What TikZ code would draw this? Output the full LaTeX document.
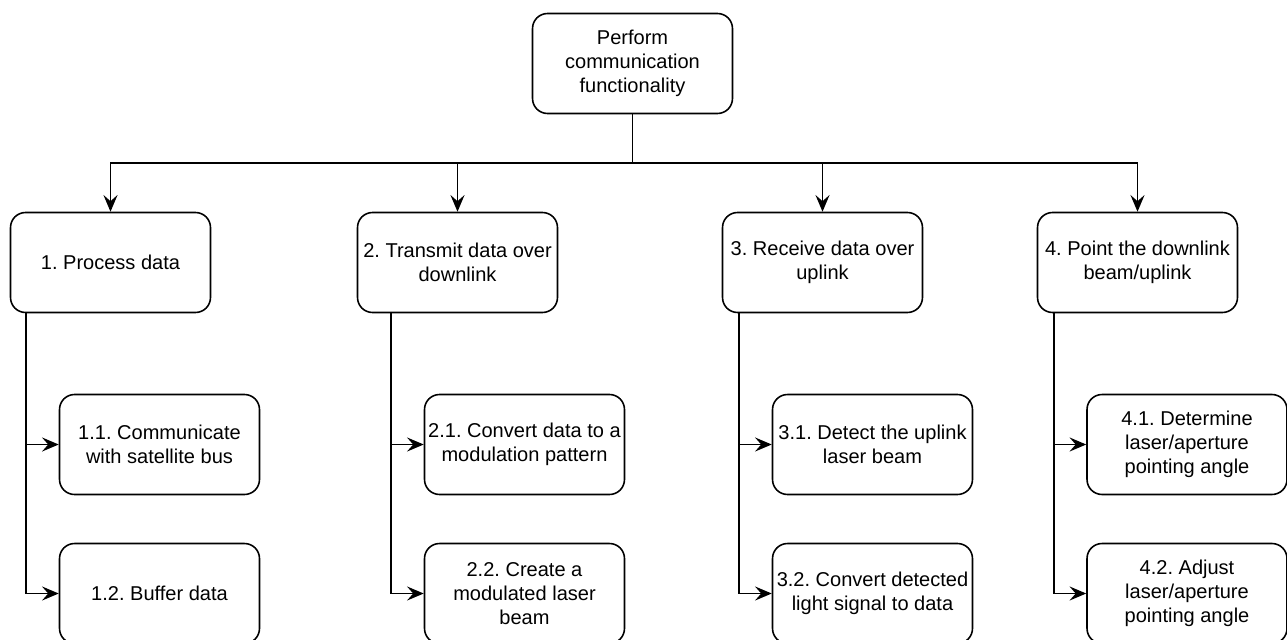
\documentclass[tikz,border=0pt]{standalone}
\usepackage{fontspec}
\setmainfont{Liberation Sans}
\frenchspacing
\usetikzlibrary{arrows.meta,positioning}

\begin{document}
\begin{tikzpicture}[
  x=0.02cm, y=-0.02cm,
  every node/.style={font=\fontsize{11.4}{13.7}\selectfont, inner sep=0pt},
  box/.style={draw, rounded corners=0.3cm, line width=0.9pt, minimum width=4cm, minimum height=2cm, align=center},
  link/.style={draw, ->, >={Stealth[length=9.5pt,width=8pt,inset=3.5pt]}, line width=0.9pt}
]
\useasboundingbox (0,0) rectangle (1287,639);

% top function
\node[box] (root) at (632.5,63.5) {Perform\\communication\\functionality};

% first level
\node[box] (p1) at (110.5,262.5) {1. Process data};
\node[box] (p2) at (457.5,262.5) {2. Transmit data over\\downlink};
\node[box] (p3) at (822.5,262.5) {3. Receive data over\\uplink};
\node[box] (p4) at (1137.5,262.5) {4. Point the downlink\\beam/uplink};

% second level
\node[box] (p11) at (159.5,444.5) {1.1. Communicate\\with satellite bus};
\node[box] (p12) at (159.5,593.5) {1.2. Buffer data};
\node[box] (p21) at (524.5,444.5) {2.1. Convert data to a\\modulation pattern};
\node[box] (p22) at (524.5,593.5) {2.2. Create a\\modulated laser\\beam};
\node[box] (p31) at (872.5,444.5) {3.1. Detect the uplink\\laser beam};
\node[box] (p32) at (872.5,593.5) {3.2. Convert detected\\light signal to data};
\node[box] (p41) at (1187,444.5) {4.1. Determine\\laser/aperture\\pointing angle};
\node[box] (p42) at (1187,593.5) {4.2. Adjust\\laser/aperture\\pointing angle};

% root to first level
\draw[link] (root.south) -- ++(0,49) -| (p1.north);
\draw[link] (root.south) -- ++(0,49) -| (p2.north);
\draw[link] (root.south) -- ++(0,49) -| (p3.north);
\draw[link] (root.south) -- ++(0,49) -| (p4.north);

% first level to second level
\draw[link] (p1.south west) ++(16,0) |- (p11.west);
\draw[link] (p1.south west) ++(16,0) |- (p12.west);
\draw[link] (p2.south west) ++(34,0) |- (p21.west);
\draw[link] (p2.south west) ++(34,0) |- (p22.west);
\draw[link] (p3.south west) ++(17,0) |- (p31.west);
\draw[link] (p3.south west) ++(17,0) |- (p32.west);
\draw[link] (p4.south west) ++(17,0) |- (p41.west);
\draw[link] (p4.south west) ++(17,0) |- (p42.west);
\end{tikzpicture}
\end{document}
